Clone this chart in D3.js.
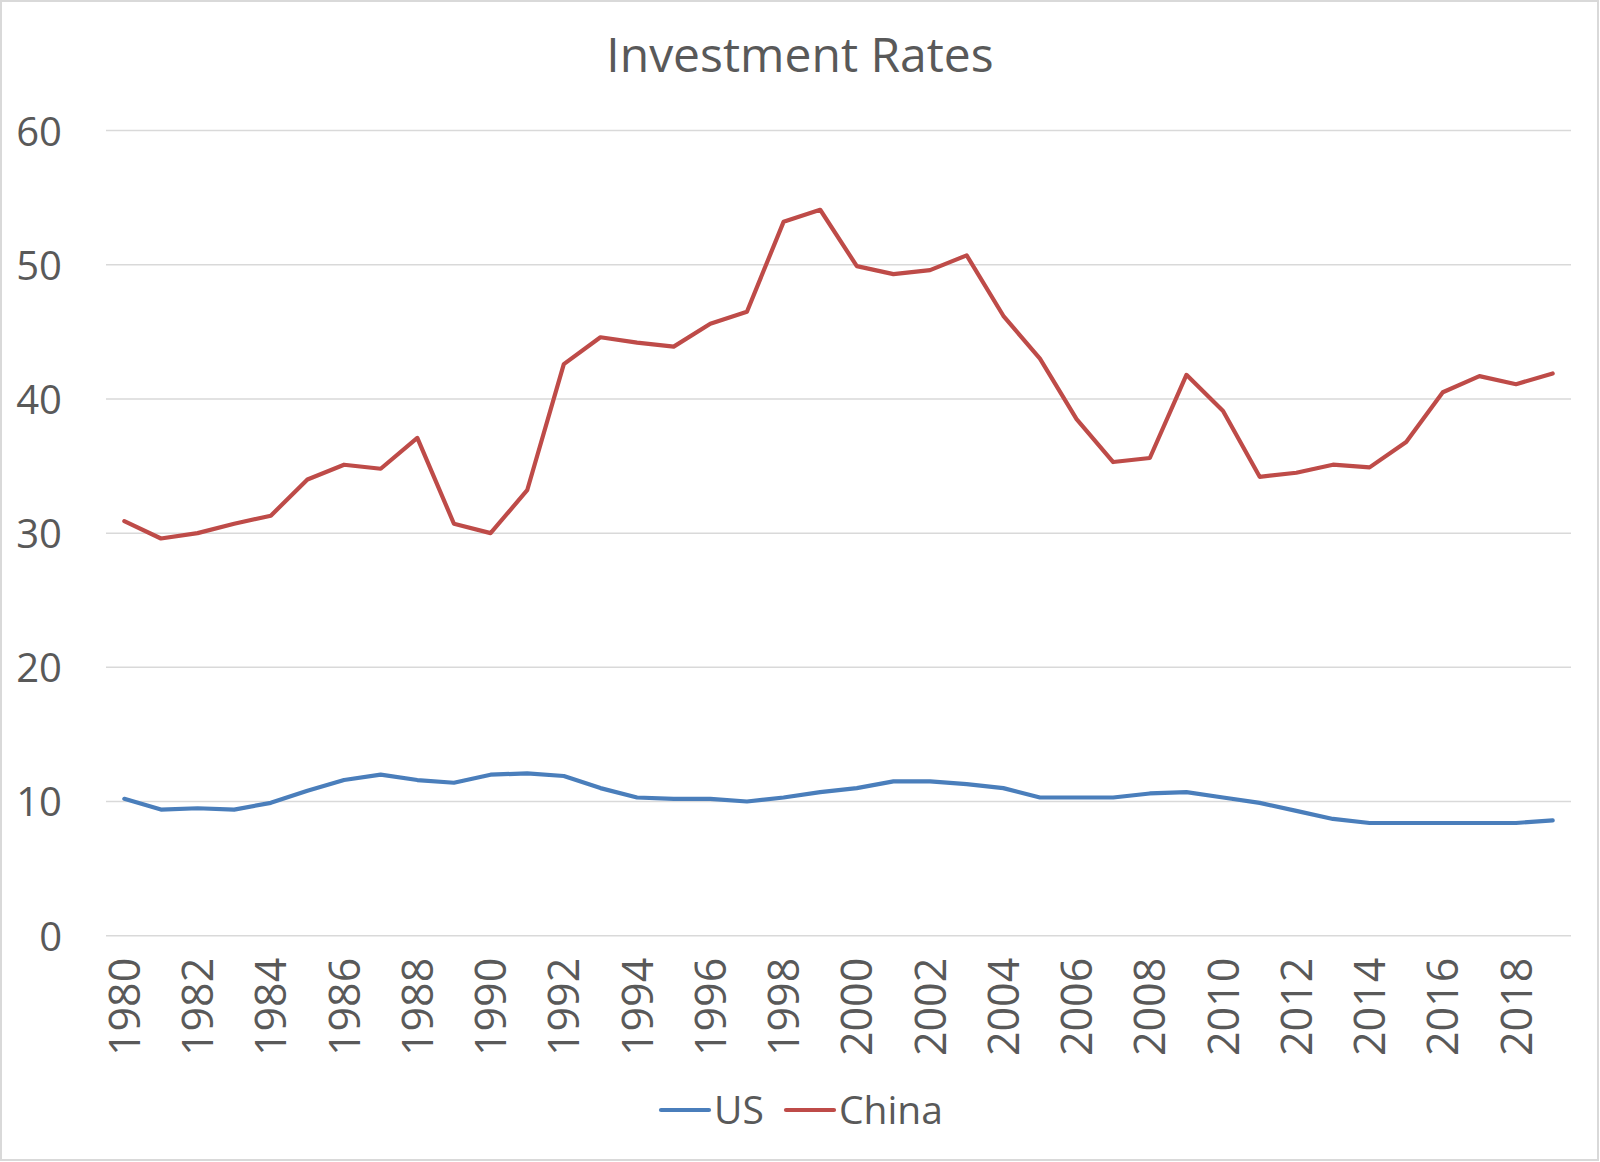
<!DOCTYPE html>
<html>
<head>
<meta charset="utf-8">
<script src="https://cdn.jsdelivr.net/npm/d3@7"></script>
<style>
  html, body { margin: 0; padding: 0; background: #fff; }
  svg { display: block; }
  text { font-family: "Open Sans", "Noto Sans", sans-serif; fill: #595959; }
</style>
</head>
<body>
<svg id="chart" width="1600" height="1162"></svg>
<script>
const title = "Investment Rates";
const years = d3.range(1980, 2020);
const yTicks = [0, 10, 20, 30, 40, 50, 60];
const seriesNames = ["US", "China"];
const seriesColors = ["#4A7EBB", "#BE4B48"];
const usValues = [10.2, 9.4, 9.5, 9.4, 9.9, 10.8, 11.6, 12.0, 11.6, 11.4,
                  12.0, 12.1, 11.9, 11.0, 10.3, 10.2, 10.2, 10.0, 10.3, 10.7,
                  11.0, 11.5, 11.5, 11.3, 11.0, 10.3, 10.3, 10.3, 10.6, 10.7,
                  10.3, 9.9, 9.3, 8.7, 8.4, 8.4, 8.4, 8.4, 8.4, 8.6];
const chinaValues = [30.9, 29.6, 30.0, 30.7, 31.3, 34.0, 35.1, 34.8, 37.1, 30.7,
                     30.0, 33.2, 42.6, 44.6, 44.2, 43.9, 45.6, 46.5, 53.2, 54.1,
                     49.9, 49.3, 49.6, 50.7, 46.2, 43.0, 38.5, 35.3, 35.6, 41.8,
                     39.1, 34.2, 34.5, 35.1, 34.9, 36.8, 40.5, 41.7, 41.1, 41.9];
const xTickYears = years.filter(y => y % 2 === 0);

const series = [usValues, chinaValues].map((vals, i) => ({
  name: seriesNames[i], color: seriesColors[i],
  values: vals.map((v, j) => ({ year: years[j], value: v }))
}));

const svg = d3.select("#chart");
const W = 1600, H = 1162;
const plot = { left: 106, right: 1571, top: 130.6, bottom: 935.7 };

// outer border
svg.append("rect").attr("x", 1).attr("y", 1).attr("width", W - 3).attr("height", H - 3)
  .attr("fill", "#fff").attr("stroke", "#d9d9d9").attr("stroke-width", 2);

const x = d3.scaleBand().domain(years).range([plot.left, plot.right]);
const y = d3.scaleLinear().domain([0, 60]).range([plot.bottom, plot.top]);

// gridlines
svg.append("g").selectAll("line").data(yTicks).join("line")
  .attr("x1", plot.left).attr("x2", plot.right)
  .attr("y1", d => y(d)).attr("y2", d => y(d))
  .attr("stroke", "#d9d9d9").attr("stroke-width", 1.5);

// y axis labels
const yAxis = d3.axisLeft(y).tickValues(yTicks).tickSize(0).tickPadding(0);
const gy = svg.append("g").attr("transform", "translate(62,0)").call(yAxis);
gy.select(".domain").remove();
gy.selectAll("text").attr("font-size", 40).style("font-family", '"Open Sans", sans-serif')
  .attr("fill", "#595959").attr("dy", "0.36em");

// x axis labels
const xAxis = d3.axisBottom(x).tickValues(xTickYears).tickSize(0).tickPadding(0);
const gx = svg.append("g").attr("transform", `translate(0,${plot.bottom})`).call(xAxis);
gx.select(".domain").remove();
gx.selectAll("text")
  .attr("font-size", 43).style("font-family", '"Open Sans", sans-serif')
  .attr("fill", "#595959")
  .attr("text-anchor", "end")
  .attr("transform", "translate(0,22) rotate(-90)")
  .attr("x", 0).attr("y", 0).attr("dy", "0.36em");

// lines
const line = d3.line().x(d => x(d.year) + x.bandwidth() / 2).y(d => y(d.value));
svg.append("g").selectAll("path").data(series).join("path")
  .attr("d", d => line(d.values))
  .attr("fill", "none").attr("stroke", d => d.color)
  .attr("stroke-width", 4.2).attr("stroke-linejoin", "round").attr("stroke-linecap", "round");

// title
svg.append("text").attr("x", 800).attr("y", 72).attr("text-anchor", "middle")
  .attr("font-size", 48).text(title);

// legend
const legendItems = [{ x1: 661, tx: 714 }, { x1: 786, tx: 839 }];
const lg = svg.append("g").selectAll("g").data(series).join("g");
lg.append("line")
  .attr("x1", (d, i) => legendItems[i].x1).attr("x2", (d, i) => legendItems[i].x1 + 48)
  .attr("y1", 1110).attr("y2", 1110)
  .attr("stroke", d => d.color).attr("stroke-width", 4.2).attr("stroke-linecap", "round");
lg.append("text")
  .attr("x", (d, i) => legendItems[i].tx).attr("y", 1110).attr("dy", "0.36em")
  .attr("font-size", 39).text(d => d.name);
</script>
</body>
</html>
